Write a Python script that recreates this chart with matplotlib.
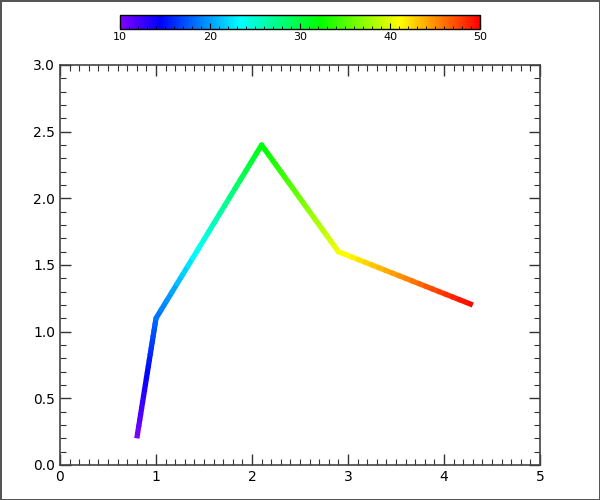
import numpy as np
import matplotlib
matplotlib.use("Agg")
import matplotlib.pyplot as plt
from matplotlib.collections import LineCollection
from matplotlib.colors import LinearSegmentedColormap, Normalize
from matplotlib.ticker import MultipleLocator, FormatStrFormatter
import matplotlib.cm as cm

# Data
x_vals = [0.8, 1.0, 2.1, 2.9, 4.3]
y_vals = [0.2, 1.1, 2.4, 1.6, 1.2]
c_vals = [10.0, 18.1, 31.6, 40.4, 50.0]
cbar_ticks = [10, 20, 30, 40, 50]

cmap = LinearSegmentedColormap.from_list(
    "rb",
    [(0.0, (0.5, 0.0, 1.0)), (1/9, (0.0, 0.0, 1.0)), (3/9, (0.0, 1.0, 1.0)),
     (5/9, (0.0, 1.0, 0.0)), (7/9, (1.0, 1.0, 0.0)), (1.0, (1.0, 0.0, 0.0))])
norm = Normalize(10, 50)

fig = plt.figure(figsize=(6, 5), dpi=100)
fig.patch.set_edgecolor("#555555")
fig.patch.set_linewidth(2)
ax = fig.add_axes([0.1, 0.07, 0.8, 0.8])

# subdivide segments for gradient colouring
segs, cs = [], []
n = 20
for i in range(len(x_vals) - 1):
    t = np.linspace(0, 1, n + 1)
    xs = x_vals[i] + (x_vals[i+1] - x_vals[i]) * t
    ys = y_vals[i] + (y_vals[i+1] - y_vals[i]) * t
    cc = c_vals[i] + (c_vals[i+1] - c_vals[i]) * t
    for j in range(n):
        segs.append([(xs[j], ys[j]), (xs[j+1], ys[j+1])])
        cs.append(0.5 * (cc[j] + cc[j+1]))
cs = np.array(cs)
lw = 3.8
# end pieces with butt caps, interior with round caps
ends = LineCollection([segs[0], segs[-1]], cmap=cmap, norm=norm, linewidths=lw,
                      capstyle="butt")
ends.set_array(np.array([cs[0], cs[-1]]))
mid = LineCollection(segs[1:-1], cmap=cmap, norm=norm, linewidths=lw,
                     capstyle="round")
mid.set_array(cs[1:-1])
ax.add_collection(ends)
ax.add_collection(mid)

ax.set_xlim(0, 5)
ax.set_ylim(0, 3)
ax.xaxis.set_major_locator(MultipleLocator(1))
ax.xaxis.set_minor_locator(MultipleLocator(0.1))
ax.yaxis.set_major_locator(MultipleLocator(0.5))
ax.yaxis.set_minor_locator(MultipleLocator(0.1))
ax.xaxis.set_major_formatter(FormatStrFormatter("%d"))
ax.yaxis.set_major_formatter(FormatStrFormatter("%.1f"))
ax.tick_params(which="both", direction="in", top=True, right=True, color="#333333")
ax.tick_params(which="major", length=8, width=1, labelsize=10)
ax.tick_params(which="minor", length=4, width=0.8)
for s in ax.spines.values():
    s.set_color("#444444")
    s.set_linewidth(1.2)

cax = fig.add_axes([0.2, 0.942, 0.6, 0.028])
sm = cm.ScalarMappable(norm=norm, cmap=cmap)
cb = fig.colorbar(sm, cax=cax, orientation="horizontal", ticks=cbar_ticks)
cb.ax.xaxis.set_minor_locator(MultipleLocator(1))
cb.ax.tick_params(which="both", direction="in", labelsize=8, pad=2)
cb.ax.tick_params(which="major", length=4)
cb.ax.tick_params(which="minor", length=2)
cb.outline.set_linewidth(1)

fig.savefig("out.png", dpi=100, edgecolor=fig.get_edgecolor())
